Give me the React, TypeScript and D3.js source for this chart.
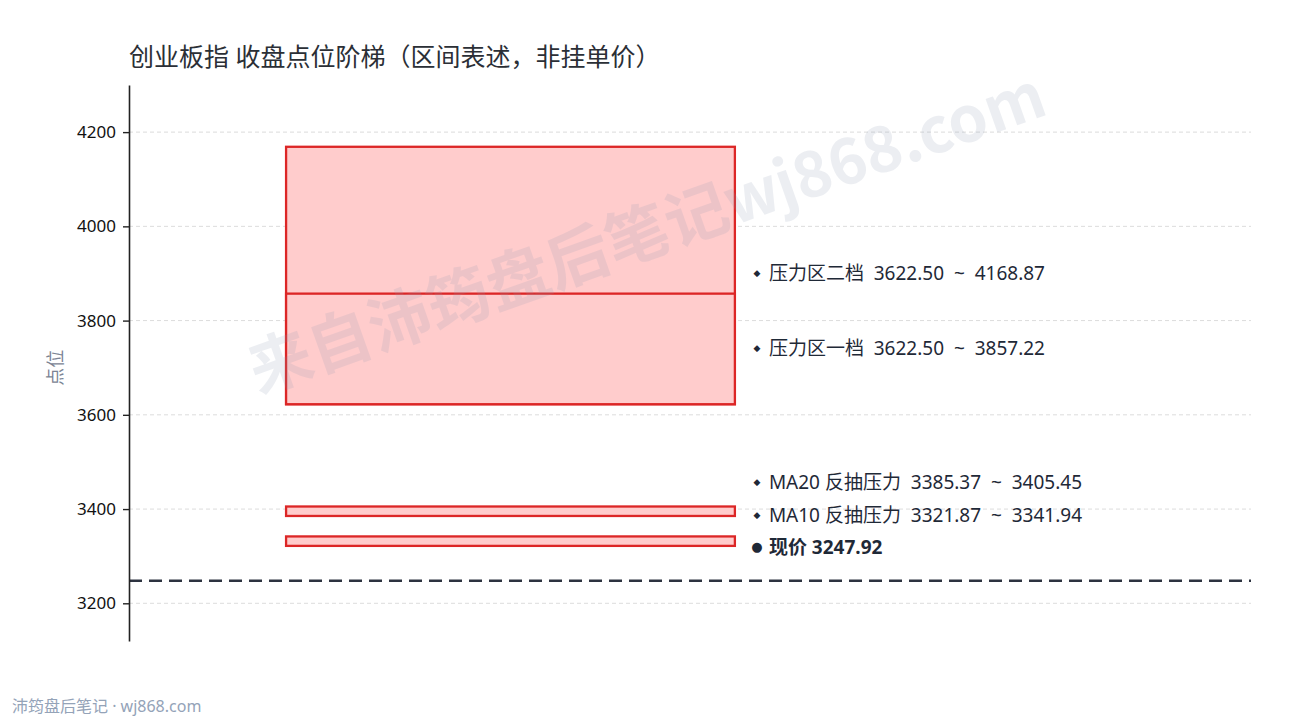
import React, { useEffect, useRef } from 'react';
import * as d3 from 'd3';

// price bands (low, high)
const bandNames = ['压力区二档', '压力区一档', 'MA20 反抽压力', 'MA10 反抽压力'];
const bandLows = [3622.5, 3622.5, 3385.37, 3321.87];
const bandHighs = [4168.87, 3857.22, 3405.45, 3341.94];
// where each label sits after spreading them apart
const labelValues = [3901, 3742, 3457, 3387, 3320];

const currentPrice = 3247.92;
const yTicks = [3200, 3400, 3600, 3800, 4000, 4200];
const yDomain: [number, number] = [3120, 4300];

const titleText = '创业板指 收盘点位阶梯（区间表述，非挂单价）';
const yLabel = '点位';
const watermark = '来自沛筠盘后笔记wj868.com';
const footer = '沛筠盘后笔记 · wj868.com';

const W = 1290;
const H = 720;
const FONT = '"Noto Sans", "Noto Sans CJK SC", sans-serif';

const App: React.FC = () => {
  const svgRef = useRef<SVGSVGElement | null>(null);

  useEffect(() => {
    if (!svgRef.current) return;
    const svg = d3.select(svgRef.current);
    svg.selectAll('*').remove();

    const margin = { top: 85, right: 39, bottom: 79, left: 129 };
    const plotW = W - margin.left - margin.right;
    const plotH = H - margin.top - margin.bottom;

    const y = d3.scaleLinear().domain(yDomain).range([plotH, 0]);
    const x = d3.scaleLinear().domain([0, 1]).range([0, plotW]);

    svg.append('rect').attr('width', W).attr('height', H).attr('fill', '#fff');

    const g = svg.append('g').attr('transform', `translate(${margin.left},${margin.top})`);

    // grid
    g.selectAll('.grid')
      .data(yTicks)
      .enter()
      .append('line')
      .attr('x1', 0)
      .attr('x2', plotW)
      .attr('y1', d => y(d))
      .attr('y2', d => y(d))
      .attr('stroke', '#dcdcdc')
      .attr('stroke-width', 1)
      .attr('stroke-dasharray', '4,3');

    // bands
    g.selectAll('.band')
      .data(bandLows.map((lo, i) => ({ lo, hi: bandHighs[i] })))
      .enter()
      .append('rect')
      .attr('x', x(0.14))
      .attr('width', x(0.54) - x(0.14))
      .attr('y', d => y(d.hi))
      .attr('height', d => y(d.lo) - y(d.hi))
      .attr('fill', '#ffcccc')
      .attr('stroke', '#dc2626')
      .attr('stroke-width', 2.3);

    // watermark (over the bands, faint)
    svg.append('text')
      .attr('transform', `translate(645,228) rotate(-19.5)`)
      .attr('text-anchor', 'middle')
      .attr('dominant-baseline', 'central')
      .attr('font-family', '"Noto Sans CJK SC", sans-serif')
      .attr('font-weight', 'bold')
      .attr('font-size', 63)
      .attr('fill', '#8c9ab3')
      .attr('opacity', 0.16)
      .text(watermark);

    // current price line
    g.append('line')
      .attr('x1', 0)
      .attr('x2', plotW)
      .attr('y1', y(currentPrice))
      .attr('y2', y(currentPrice))
      .attr('stroke', '#2d3340')
      .attr('stroke-width', 2.5)
      .attr('stroke-dasharray', '13,7');

    // labels
    const labelX = x(0.54) + 22;
    const labels = bandNames.map((name, i) => ({
      marker: '◆',
      text: `${name}  ${bandLows[i].toFixed(2)}  ~  ${bandHighs[i].toFixed(2)}`,
      v: labelValues[i],
      bold: false,
    }));
    labels.push({ marker: '●', text: `现价 ${currentPrice.toFixed(2)}`, v: labelValues[4], bold: true });

    labels.forEach(l => {
      g.append('text')
        .attr('x', labelX)
        .attr('y', y(l.v))
        .attr('dominant-baseline', 'central')
        .attr('text-anchor', 'middle')
        .attr('font-family', '"DejaVu Sans", sans-serif')
        .attr('font-size', l.bold ? 13 : 9)
        .attr('fill', '#1f2937')
        .text(l.marker);
      g.append('text')
        .attr('x', labelX + 12)
        .attr('y', y(l.v))
        .attr('dominant-baseline', 'central')
        .attr('font-family', FONT)
        .attr('font-size', 19)
        .attr('font-weight', l.bold ? 'bold' : 'normal')
        .attr('fill', '#1f2937')
        .style('white-space', 'pre')
        .text(l.text);
    });

    // y axis
    const axis = g.append('g')
      .call(d3.axisLeft(y).tickValues(yTicks).tickFormat(d3.format('d')).tickSize(6).tickPadding(7).tickSizeOuter(0));
    axis.select('.domain').attr('stroke', '#222').attr('stroke-width', 1.6);
    axis.selectAll('.tick line').attr('stroke', '#222').attr('stroke-width', 1.4);
    axis.selectAll('.tick text')
      .attr('font-family', FONT)
      .attr('font-size', 17)
      .attr('fill', '#111');

    // y label
    svg.append('text')
      .attr('transform', `translate(55,${margin.top + y(3700)}) rotate(-90)`)
      .attr('text-anchor', 'middle')
      .attr('dominant-baseline', 'central')
      .attr('font-family', FONT)
      .attr('font-size', 18)
      .attr('fill', '#7b8494')
      .text(yLabel);

    // title
    svg.append('text')
      .attr('x', 129)
      .attr('y', 66)
      .attr('font-family', FONT)
      .attr('font-size', 25)
      .attr('fill', '#2b2f36')
      .text(titleText);

    // footer
    svg.append('text')
      .attr('x', 12)
      .attr('y', 712)
      .attr('font-family', FONT)
      .attr('font-size', 16)
      .attr('fill', '#94a3b8')
      .text(footer);
  }, []);

  return (
    <svg
      ref={svgRef}
      width={W}
      height={H}
      style={{ display: 'block', position: 'absolute', left: 0, top: 0 }}
    />
  );
};

export default App;
